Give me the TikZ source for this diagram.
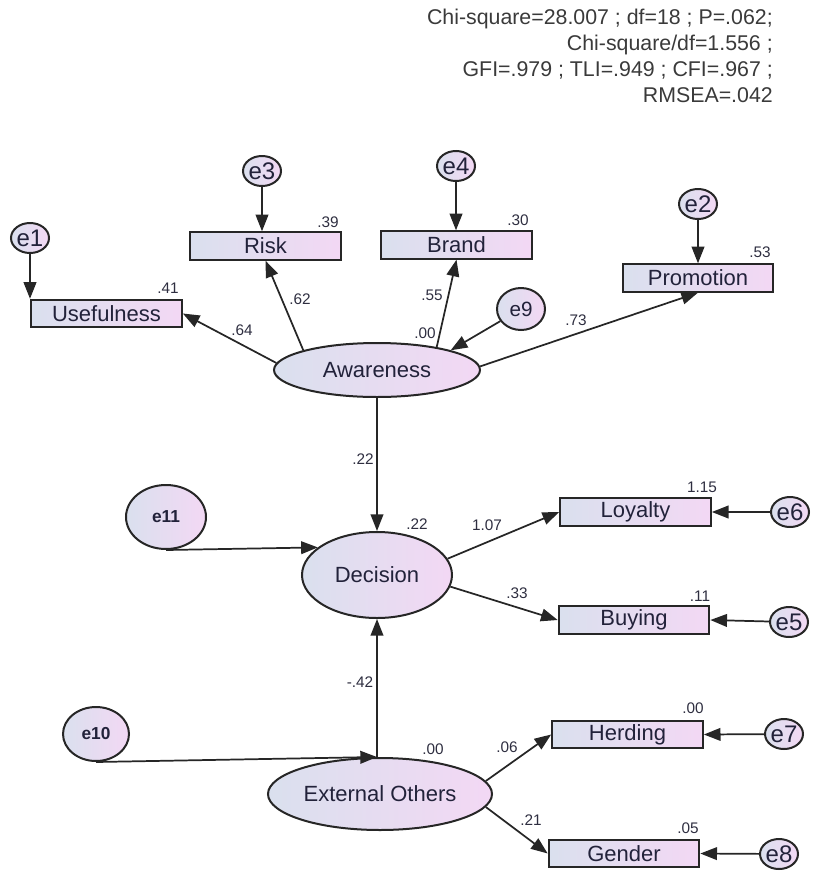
\documentclass[tikz,border=0pt]{standalone}
\usepackage{fontspec}
\setmainfont{Liberation Sans}
\usetikzlibrary{arrows.meta,shapes.geometric}
\definecolor{lc}{HTML}{DAE0EE}
\definecolor{rc}{HTML}{F3D8F4}
\definecolor{ink}{HTML}{22223A}
\definecolor{edgec}{HTML}{262626}
\definecolor{numc}{HTML}{2E2E40}
\definecolor{hdr}{HTML}{3A3A3A}
\begin{document}
\begin{tikzpicture}[x=0.75pt,y=-0.75pt,
  obs/.style={rectangle,draw=edgec,line width=1.5pt,left color=lc,right color=rc,
    minimum width=113pt,minimum height=20.5pt,inner sep=0pt,text=ink,
    font=\fontsize{16.5}{18}\selectfont},
  lat/.style={ellipse,draw=edgec,line width=1.5pt,left color=lc,right color=rc,
    inner sep=0pt,text=ink,font=\fontsize{16.5}{18}\selectfont},
  err/.style={ellipse,draw=edgec,line width=1.5pt,left color=lc,right color=rc,
    inner sep=0pt,minimum width=28.5pt,minimum height=22.5pt,text=ink,
    font=\fontsize{18}{20}\selectfont},
  errb/.style={err,font=\fontsize{13}{15}\selectfont\bfseries},
  num/.style={font=\fontsize{11.5}{13}\selectfont,inner sep=0pt,text=numc},
  conn/.style={draw=edgec,line width=1.3pt,-{Triangle[length=12.5pt,width=9.5pt]}},
]
\useasboundingbox (0,0) rectangle (813,871);

% header
\node[anchor=north east,align=right,inner sep=0pt,text=hdr,
  font=\fontsize{16}{19.5}\selectfont] (fitidx) at (773,9)
  {Chi-square=28.007 ; df=18 ; P=.062;\\Chi-square/df=1.556 ;\\GFI=.979 ; TLI=.949 ; CFI=.967 ;\\RMSEA=.042};

% observed variables
\node[obs] (use)   at (106.5,313.5) {Usefulness};
\node[obs] (risk)  at (265.5,246)   {Risk};
\node[obs] (brand) at (456.5,245)   {Brand};
\node[obs] (promo) at (698,278)     {Promotion};
\node[obs] (loy)   at (635.5,512)   {Loyalty};
\node[obs] (buy)   at (634,620)     {Buying};
\node[obs] (herd)  at (627.5,734.5) {Herding};
\node[obs] (gend)  at (624,853.5)   {Gender};

% latent variables
\node[lat,minimum width=154.5pt,minimum height=40.5pt] (aw)  at (377,370) {Awareness};
\node[lat,minimum width=112.5pt,minimum height=64.5pt] (dec) at (377,575) {Decision};
\node[lat,minimum width=168pt,minimum height=54pt]     (ext) at (380,794) {External Others};

% error terms
\node[err] (e1) at (30,238)  {e1};
\node[err] (e3) at (262,171) {e3};
\node[err] (e4) at (456,166) {e4};
\node[err] (e2) at (698,204) {e2};
\node[err,minimum width=36pt,minimum height=31.5pt,font=\fontsize{15.5}{18}\selectfont] (e9) at (521,309) {e9};
\node[err] (e6) at (790,512) {e6};
\node[err] (e5) at (789,622) {e5};
\node[err] (e7) at (784,734) {e7};
\node[err] (e8) at (779,854) {e8};
\node[errb,minimum width=60pt,minimum height=48pt] (e11) at (166,517) {e11};
\node[errb,minimum width=49.5pt,minimum height=40.5pt] (e10) at (96,734) {e10};

% connectors
\draw[conn] (e1) -- (e1 |- use.north);
\draw[conn] (e3) -- (e3 |- risk.north);
\draw[conn] (e4) -- (e4 |- brand.north);
\draw[conn] (e2) -- (e2 |- promo.north);
\draw[conn] (aw.176) -- (use.east);
\draw[conn] (aw.165.6) -- (risk.south);
\draw[conn] (aw.21) -- (brand.south);
\draw[conn] (aw.2.8) -- (promo.south);
\draw[conn] (e9) -- (aw.15);
\draw[conn] (aw.south) -- (dec.north);
\draw[conn] (e11.south) -- (dec.155);
\draw[conn] (dec.13) -- (loy.west);
\draw[conn] (dec.-9) -- (buy.west);
\draw[conn] (e6) -- (loy.east);
\draw[conn] (e5) -- (buy.east);
\coordinate (extTop) at (dec.south |- ext.north);
\draw[conn] (extTop) -- (dec.south);
\draw[conn] (e10.south) -- (extTop);
\draw[conn] (ext.7.4) -- (herd.west);
\draw[conn] (ext.-7.4) -- (gend.west);
\draw[conn] (e7) -- (herd.east);
\draw[conn] (e8) -- (gend.east);

% estimates
\node[num] (n41)  at (168,288) {.41};
\node[num] (n39)  at (328,222) {.39};
\node[num] (n30)  at (518,220) {.30};
\node[num] (n53)  at (760,252) {.53};
\node[num] (n64)  at (242,330) {.64};
\node[num] (n62)  at (300,299) {.62};
\node[num] (n55)  at (432,295) {.55};
\node[num] (n00a) at (425,333) {.00};
\node[num] (n73)  at (576,320) {.73};
\node[num] (n22a) at (363,459) {.22};
\node[num] (n22b) at (417,524) {.22};
\node[num] (n107) at (487,525) {1.07};
\node[num] (n115) at (702,487) {1.15};
\node[num] (n33)  at (517,593) {.33};
\node[num] (n11)  at (700,596) {.11};
\node[num] (n42)  at (360,682) {-.42};
\node[num] (n00b) at (433,749) {.00};
\node[num] (n06)  at (507,747) {.06};
\node[num] (n21)  at (531,820) {.21};
\node[num] (n00c) at (693,708) {.00};
\node[num] (n05)  at (688,828) {.05};
\end{tikzpicture}
\end{document}
